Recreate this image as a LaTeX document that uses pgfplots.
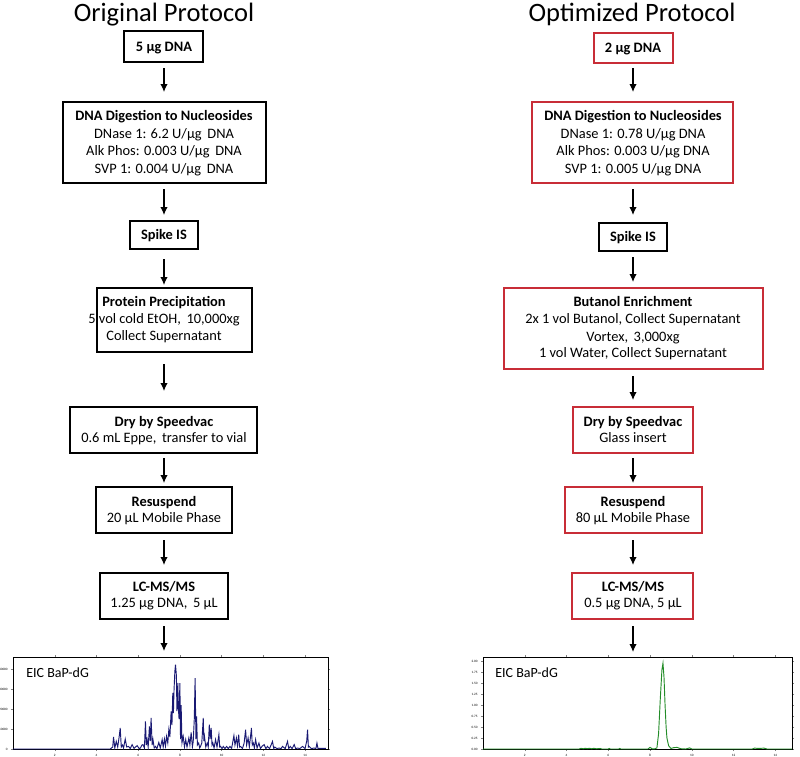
\documentclass[border=0pt]{standalone}
\usepackage{fontspec}
\setmainfont{Carlito}
\usepackage{pgfplots}
\pgfplotsset{compat=1.18}
\usetikzlibrary{arrows.meta}
\definecolor{boxred}{RGB}{200,45,55}
\definecolor{navy}{RGB}{25,25,115}
\definecolor{dgreen}{RGB}{35,140,40}
\begin{document}
\begin{tikzpicture}[x=0.75pt,y=0.75pt,
  txt/.style={anchor=base,inner sep=0pt,font=\fontsize{10.8pt}{13pt}\selectfont},
  btxt/.style={anchor=base,inner sep=0pt,font=\fontsize{10.8pt}{13pt}\selectfont\bfseries},
  ttl/.style={anchor=base,inner sep=0pt,font=\fontsize{19.9pt}{22pt}\selectfont},
  arr/.style={-{Latex[length=6pt,width=5.5pt]},line width=0.8pt},
  bx/.style={draw=black,line width=0.8pt},
  rbx/.style={draw=boxred,line width=0.9pt}]
\path[use as bounding box] (0,0) rectangle (800,-757);

% ---------- chromatograms ----------
\begin{axis}[at={(9.75pt,-561.75pt)},anchor=south west,scale only axis,
  width=236.25pt,height=69pt,xmin=0,xmax=15.1,ymin=0,ymax=4.6,
  axis line style={line width=0.6pt},tick align=outside,major tick length=1.5pt,
  tick style={line width=0.3pt},
  xtick={2,4,6,8,10,12,14},ytick={0,1,2,3,4},
  yticklabels={0,10000,20000,30000,40000},
  tick label style={font=\fontsize{2.5pt}{3pt}\selectfont},
  /pgf/number format/assume math mode=true,
  xticklabel style={yshift=1pt},yticklabel style={xshift=1pt}]
\addplot[navy,line width=0.7pt] coordinates {
(0,0) (4.66,0) (4.78,0.1) (4.82,0.6) (4.88,0.05) (4.95,0.38) (5.02,0.1) (5.10,0.7) (5.14,1.05) (5.19,0.1) (5.25,0.2) (5.30,0.05) (5.38,0.5) (5.45,0.1) (5.54,0.13) (5.62,0.02) (5.71,0.22) (5.80,0.03) (5.95,0.17) (6.05,0.02) (6.11,0.05) (6.18,0.2) (6.23,0.22) (6.30,0.05) (6.35,1.38) (6.39,0.2) (6.43,0.47) (6.48,0.1) (6.54,1.13) (6.58,0.4) (6.62,1.55) (6.67,0.2) (6.71,0.47) (6.77,0.05) (6.83,0.13) (6.90,0.02) (6.99,0.33) (7.06,0.05) (7.15,0.47) (7.20,0.1) (7.26,0.5) (7.31,0.15) (7.36,0.63) (7.42,0.3) (7.47,0.97) (7.52,0.6) (7.58,1.88) (7.62,1.2) (7.66,2.8) (7.69,1.8) (7.72,2.97) (7.76,3.9) (7.79,4.22) (7.83,3.7) (7.86,1.9) (7.90,3.3) (7.93,2.0) (7.96,1.5) (8.00,3.3) (8.03,0.5) (8.06,2.2) (8.10,0.3) (8.16,0.63) (8.22,0.1) (8.28,0.47) (8.34,0.1) (8.43,0.55) (8.48,0.2) (8.54,0.83) (8.60,0.1) (8.64,0.38) (8.69,1.5) (8.73,3.55) (8.77,0.5) (8.80,1.63) (8.84,0.2) (8.90,0.3) (8.95,0.05) (8.99,0.13) (9.05,0.3) (9.12,1.55) (9.15,0.4) (9.18,0.63) (9.24,0.1) (9.31,0.3) (9.36,0.1) (9.41,1.22) (9.45,0.5) (9.50,1.05) (9.54,0.2) (9.58,0.3) (9.64,0.05) (9.71,0.47) (9.78,0.1) (9.87,0.72) (9.91,0.1) (9.95,0.13) (10.02,0.02) (10.08,0.13) (10.16,0.02) (10.24,0.13) (10.32,0.02) (10.40,0.13) (10.48,0.03) (10.59,0.67) (10.64,0.2) (10.71,0.55) (10.76,0.15) (10.82,0.72) (10.86,0.1) (10.91,0.13) (11.00,0.02) (11.08,0.3) (11.15,0.97) (11.20,0.2) (11.27,0.55) (11.33,0.1) (11.43,1.05) (11.47,0.2) (11.52,0.3) (11.57,0.05) (11.63,0.47) (11.70,0.05) (11.79,0.3) (11.86,0.02) (11.95,0.15) (12.04,0.22) (12.12,0.02) (12.20,0.13) (12.30,0.02) (12.44,0.38) (12.50,0.02) (12.55,0.1) (12.65,0.02) (12.76,0.05) (12.85,0.02) (12.92,0.13) (13.05,0.02) (13.16,0.38) (13.22,0.02) (13.29,0.13) (13.38,0.02) (13.48,0.22) (13.55,0.02) (13.64,0.05) (13.75,0.02) (13.88,0.13) (14.0,0.02) (14.08,0.4) (14.12,0.97) (14.16,0.1) (14.20,0.13) (14.30,0.02) (14.44,0.05) (14.52,0.02) (14.57,0.3) (14.62,0.02) (14.68,0.03) (15.0,0.03)
};
\end{axis}

\begin{axis}[at={(362.25pt,-561.75pt)},anchor=south west,scale only axis,
  width=231.75pt,height=69pt,xmin=0,xmax=14.8,ymin=0,ymax=8.36,
  axis line style={line width=0.6pt},tick align=outside,major tick length=1.5pt,
  tick style={line width=0.3pt},
  xtick={2,4,6,8,10,12,14},ytick={0,1,2,3,4,5,6,7,8},
  yticklabels={0.00,0.25,0.50,0.75,1.00,1.25,1.50,1.75,2.00},
  tick label style={font=\fontsize{2.5pt}{3pt}\selectfont},
  /pgf/number format/assume math mode=true,
  xticklabel style={yshift=1pt},yticklabel style={xshift=1pt}]
\addplot[dgreen,line width=0.7pt] coordinates {
(0,0) (4.6,0) (4.7,0.06) (4.8,0.02) (4.9,0.07) (5.0,0.03) (5.1,0.07) (5.2,0.02) (5.3,0.06) (5.45,0.02) (5.6,0.05) (5.7,0) (6.0,0) (6.05,0.05) (6.1,0) (6.5,0) (6.55,0.05) (6.6,0) (7.9,0) (8.0,0.15) (8.1,0.02) (8.2,0) (8.33,0.1) (8.41,1.4) (8.49,4.5) (8.57,7.2) (8.62,7.8) (8.67,6.5) (8.72,4.0) (8.77,2.0) (8.81,1.0) (8.89,0.3) (9.0,0.05) (9.13,0.12) (9.29,0.15) (9.46,0.03) (9.7,0) (9.9,0.1) (10.0,0) (12.9,0) (13.0,0.08) (13.2,0.05) (13.46,0.08) (13.6,0) (14.8,0)
};
\end{axis}
\node[anchor=base west,inner sep=0pt,font=\fontsize{10.5pt}{12pt}\selectfont] at (26,-677) {EIC BaP-dG};
\node[anchor=base west,inner sep=0pt,font=\fontsize{10.5pt}{12pt}\selectfont] at (495,-677) {EIC BaP-dG};

% ---------- titles ----------
\node[ttl] at (164,-21) {Original Protocol};
\node[ttl] at (632,-21) {Optimized Protocol};

% ---------- left column ----------
\draw[bx] (124,-31) rectangle (203,-62);
\node[btxt] at (164,-51.5) {5 µg DNA};
\draw[arr] (164,-68) -- (164,-92);
\draw[bx] (63,-102) rectangle (266,-183);
\node[btxt] at (164,-120.5) {DNA Digestion to Nucleosides};
\node[txt] at (164,-138) {DNase 1: 6.2 U/µg\, DNA};
\node[txt] at (164,-155.5) {Alk Phos: 0.003 U/µg\, DNA};
\node[txt] at (164,-173) {SVP 1: 0.004 U/µg\, DNA};
\draw[arr] (164,-189) -- (164,-215);
\draw[bx] (130,-221) rectangle (198,-249);
\node[btxt] at (164,-239.5) {Spike IS};
\draw[arr] (164,-259) -- (164,-285);
\draw[bx] (97,-288) rectangle (252,-352);
\node[btxt] at (164,-306.5) {Protein Precipitation};
\node[txt] at (164,-323.5) {5 vol cold EtOH,\, 10,000xg};
\node[txt] at (164,-340.5) {Collect Supernatant};
\draw[arr] (164,-364) -- (164,-391);
\draw[bx] (70,-407) rectangle (257,-453);
\node[btxt] at (164,-426.5) {Dry by Speedvac};
\node[txt] at (164,-442.5) {0.6 mL Eppe,\, transfer to vial};
\draw[arr] (164,-458) -- (164,-483);
\draw[bx] (96,-487) rectangle (232,-533);
\node[btxt] at (164,-506.5) {Resuspend};
\node[txt] at (164,-522.5) {20 µL Mobile Phase};
\draw[arr] (164,-540) -- (164,-565);
\draw[bx] (100,-573) rectangle (228,-619);
\node[btxt] at (164,-591.5) {LC-MS/MS};
\node[txt] at (164,-607.5) {1.25 µg DNA,\, 5 µL};
\draw[arr] (164,-626) -- (164,-651);

% ---------- right column ----------
\draw[rbx] (594,-33) rectangle (673,-63);
\node[btxt] at (633,-52.5) {2 µg DNA};
\draw[arr] (633,-68) -- (633,-92);
\draw[rbx] (532,-102) rectangle (733,-183);
\node[btxt] at (633,-120.5) {DNA Digestion to Nucleosides};
\node[txt] at (633,-138) {DNase 1: 0.78 U/µg DNA};
\node[txt] at (633,-155.5) {Alk Phos: 0.003 U/µg DNA};
\node[txt] at (633,-173) {SVP 1: 0.005 U/µg DNA};
\draw[arr] (633,-189) -- (633,-215);
\draw[bx] (599,-223) rectangle (667,-251);
\node[btxt] at (633,-241.5) {Spike IS};
\draw[arr] (633,-257) -- (633,-282);
\draw[rbx] (504,-288) rectangle (763,-369);
\node[btxt] at (633,-306.5) {Butanol Enrichment};
\node[txt] at (633,-323.5) {2x 1 vol Butanol, Collect Supernatant};
\node[txt] at (633,-341) {Vortex,\, 3,000xg};
\node[txt] at (633,-357.5) {1 vol Water, Collect Supernatant};
\draw[arr] (633,-376) -- (633,-400);
\draw[rbx] (573,-407) rectangle (693,-453);
\node[btxt] at (633,-426.5) {Dry by Speedvac};
\node[txt] at (633,-442.5) {Glass insert};
\draw[arr] (633,-458) -- (633,-483);
\draw[rbx] (565,-487) rectangle (702,-533);
\node[btxt] at (633,-506.5) {Resuspend};
\node[txt] at (633,-522.5) {80 µL Mobile Phase};
\draw[arr] (633,-540) -- (633,-565);
\draw[rbx] (572,-573) rectangle (693,-619);
\node[btxt] at (633,-591.5) {LC-MS/MS};
\node[txt] at (633,-607.5) {0.5 µg DNA, 5 µL};
\draw[arr] (633,-626) -- (633,-652);
\end{tikzpicture}
\end{document}
